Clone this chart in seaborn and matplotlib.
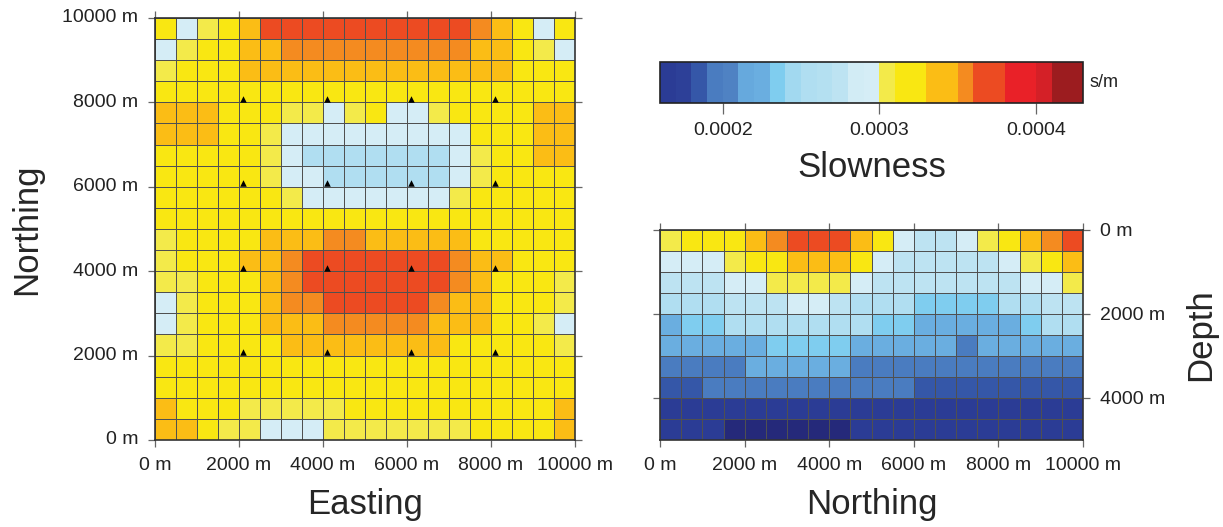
import numpy as np
import matplotlib
matplotlib.use("Agg")
import matplotlib.pyplot as plt
import matplotlib.cm as cm
from matplotlib.colors import ListedColormap, BoundaryNorm
import seaborn as sns

# slowness values, in 1e-6 s/m
# plan view: rows from north (10000 m) to south (0 m), columns west -> east
plan_view = [
    [320, 290, 305, 320, 340, 370, 370, 370, 370, 370, 370, 370, 370, 370, 370, 355, 340, 320, 290, 320],
    [290, 305, 320, 320, 340, 340, 355, 355, 355, 355, 355, 355, 355, 355, 355, 340, 340, 320, 305, 290],
    [305, 320, 320, 320, 340, 340, 340, 340, 340, 340, 340, 340, 340, 340, 340, 340, 340, 320, 320, 320],
    [320, 320, 320, 320, 320, 320, 320, 320, 320, 320, 320, 320, 320, 320, 320, 320, 320, 320, 320, 320],
    [340, 340, 340, 320, 320, 320, 305, 305, 290, 305, 320, 290, 290, 305, 320, 320, 320, 320, 340, 340],
    [340, 340, 340, 320, 320, 305, 290, 290, 290, 290, 290, 290, 290, 290, 290, 320, 320, 320, 340, 340],
    [320, 320, 320, 320, 320, 305, 290, 250, 250, 250, 250, 250, 250, 250, 290, 305, 320, 320, 340, 340],
    [320, 320, 320, 320, 320, 305, 290, 290, 250, 250, 250, 250, 250, 250, 290, 305, 320, 320, 320, 320],
    [320, 320, 320, 320, 320, 320, 305, 290, 290, 290, 290, 290, 290, 290, 305, 320, 320, 320, 320, 320],
    [320, 320, 320, 320, 320, 320, 320, 320, 320, 320, 320, 320, 320, 320, 320, 320, 320, 320, 320, 320],
    [305, 320, 320, 320, 320, 340, 340, 340, 355, 355, 340, 340, 340, 340, 340, 320, 320, 320, 320, 320],
    [305, 320, 320, 320, 340, 340, 355, 370, 370, 370, 370, 370, 370, 370, 355, 340, 340, 320, 320, 320],
    [305, 305, 320, 320, 320, 340, 355, 370, 370, 370, 370, 370, 370, 370, 355, 340, 320, 320, 320, 305],
    [290, 305, 320, 320, 320, 340, 355, 355, 370, 370, 370, 370, 370, 355, 340, 340, 320, 320, 320, 305],
    [290, 305, 320, 320, 320, 340, 340, 340, 355, 355, 355, 355, 355, 340, 340, 340, 320, 320, 305, 290],
    [305, 305, 320, 320, 320, 320, 340, 340, 340, 340, 340, 340, 340, 340, 320, 320, 320, 320, 320, 305],
    [320, 320, 320, 320, 320, 320, 320, 320, 320, 320, 320, 320, 320, 320, 320, 320, 320, 320, 320, 320],
    [320, 320, 320, 320, 320, 320, 320, 320, 320, 320, 320, 320, 320, 320, 320, 320, 320, 320, 320, 320],
    [340, 320, 320, 320, 305, 305, 305, 305, 305, 320, 320, 320, 320, 320, 320, 320, 320, 320, 320, 340],
    [340, 340, 320, 305, 305, 290, 290, 290, 305, 305, 305, 305, 305, 305, 305, 320, 320, 320, 320, 340],
]

# cross section: rows from 0 m depth down to 5000 m, columns along northing
cross_section = [
    [305, 320, 320, 320, 340, 355, 370, 370, 370, 340, 320, 290, 270, 270, 290, 305, 320, 340, 355, 370],
    [290, 290, 290, 305, 320, 320, 340, 340, 340, 320, 290, 270, 270, 270, 270, 270, 290, 305, 320, 340],
    [270, 270, 270, 290, 290, 305, 305, 305, 305, 290, 270, 270, 270, 270, 270, 270, 270, 290, 290, 305],
    [250, 250, 250, 270, 270, 270, 290, 290, 270, 250, 250, 250, 235, 235, 235, 235, 250, 250, 270, 270],
    [220, 235, 235, 250, 250, 250, 250, 250, 250, 250, 235, 235, 220, 220, 220, 220, 220, 235, 250, 250],
    [220, 220, 220, 220, 220, 235, 235, 235, 235, 220, 220, 220, 220, 220, 200, 220, 220, 220, 220, 220],
    [200, 200, 200, 200, 220, 220, 220, 220, 220, 200, 200, 200, 200, 200, 200, 200, 200, 200, 200, 200],
    [185, 185, 200, 200, 200, 200, 200, 200, 200, 200, 200, 200, 185, 185, 185, 185, 185, 185, 185, 185],
    [170, 170, 170, 170, 170, 170, 170, 170, 170, 170, 170, 170, 170, 170, 170, 170, 170, 170, 170, 170],
    [170, 170, 170, 155, 155, 155, 155, 155, 155, 170, 170, 170, 170, 170, 170, 170, 170, 170, 170, 170],
]

station_easting = [2100, 4100, 6100, 8100]
station_northing = [2080, 4080, 6080, 8080]

cell_size = 500
extent = 10000
distance_ticks = [0, 2000, 4000, 6000, 8000, 10000]
depth_ticks = [0, 2000, 4000]
slowness_ticks = [0.0002, 0.0003, 0.0004]

# discrete GMT-like palette, one colour per 1e-5 s/m step from 0.00016 to 0.00043
level_colors = [
    "#2b3c95", "#2d4098", "#3557a8", "#4a7cc0", "#4f82c3", "#66a9dd", "#6aaee0",
    "#7fcdef", "#a2d9f0", "#b0def1", "#b4e0f1", "#bde3f2", "#d2ecf5", "#d5edf6",
    "#f3ea4a", "#f9e712", "#f9e712", "#fbbd15", "#fbbd15", "#f48b20", "#ec4b22",
    "#ec4b22", "#e92128", "#e92128", "#d42027", "#9c1c1f", "#9c1c1f",
]
cmap = ListedColormap(level_colors)
cmap.set_under("#25297a")
norm = BoundaryNorm(np.linspace(0.00016, 0.00043, len(level_colors) + 1), cmap.N)

sns.set_theme(style="white")
plt.rcParams["font.family"] = ["Liberation Sans", "DejaVu Sans"]

fig = plt.figure(figsize=(12.23, 5.27), dpi=100)
ax_map = fig.add_axes([0.1267, 0.1651, 0.3434, 0.8008])
ax_sec = fig.add_axes([0.5397, 0.1651, 0.3459, 0.3985])
cax = fig.add_axes([0.5397, 0.8046, 0.3459, 0.0778])

grid_kw = dict(cmap=cmap, norm=norm, cbar=False, linewidths=0.7, linecolor="#505050")
sns.heatmap(np.array(plan_view) * 1e-6, ax=ax_map, **grid_kw)
sns.heatmap(np.array(cross_section) * 1e-6, ax=ax_sec, **grid_kw)

# station triangles (cell index coordinates, north at top)
ee, nn = np.meshgrid(station_easting, station_northing)
ax_map.scatter(ee.ravel() / cell_size, (extent - nn.ravel()) / cell_size,
               marker="^", s=22, color="black", zorder=5, linewidths=0)

tick_font = 14
label_font = 25
for ax in (ax_map, ax_sec):
    for sp in ax.spines.values():
        sp.set_visible(True)
        sp.set_color("#333333")
        sp.set_linewidth(1.2)
    ax.tick_params(direction="out", length=5, width=0.9, color="#666666",
                   top=True, bottom=True, left=True, right=True,
                   labelsize=tick_font, pad=7, labelcolor="#222222")
    ax.set_xticks([t / cell_size for t in distance_ticks])
    ax.set_xticklabels([f"{t} m" for t in distance_ticks], rotation=0)

ax_map.set_yticks([(extent - t) / cell_size for t in distance_ticks])
ax_map.set_yticklabels([f"{t} m" for t in distance_ticks], rotation=0)
ax_map.set_xlabel("Easting", fontsize=label_font, labelpad=10)
ax_map.set_ylabel("Northing", fontsize=label_font, labelpad=14)

ax_sec.set_yticks([t / cell_size for t in depth_ticks])
ax_sec.set_yticklabels([f"{t} m" for t in depth_ticks], rotation=0)
ax_sec.tick_params(labelleft=False, labelright=True)
ax_sec.yaxis.set_label_position("right")
ax_sec.set_xlabel("Northing", fontsize=label_font, labelpad=10)
ax_sec.set_ylabel("Depth", fontsize=label_font, labelpad=14)

cb = fig.colorbar(cm.ScalarMappable(norm=norm, cmap=cmap), cax=cax,
                  orientation="horizontal", ticks=slowness_ticks)
cb.ax.set_xticklabels([f"{t:.4f}" for t in slowness_ticks])
cb.ax.tick_params(direction="out", length=8, width=0.9, color="#666666",
                  labelsize=tick_font, pad=6, labelcolor="#222222")
cb.ax.xaxis.set_tick_params(which="minor", length=0)
cb.outline.set_edgecolor("#222222")
cb.outline.set_linewidth(1.2)
cb.set_label("Slowness", fontsize=label_font, labelpad=8)
cax.text(1.015, 0.5, "s/m", transform=cax.transAxes, fontsize=tick_font - 1,
         va="center", ha="left", color="#222222")

fig.savefig("out.png", dpi=100)
